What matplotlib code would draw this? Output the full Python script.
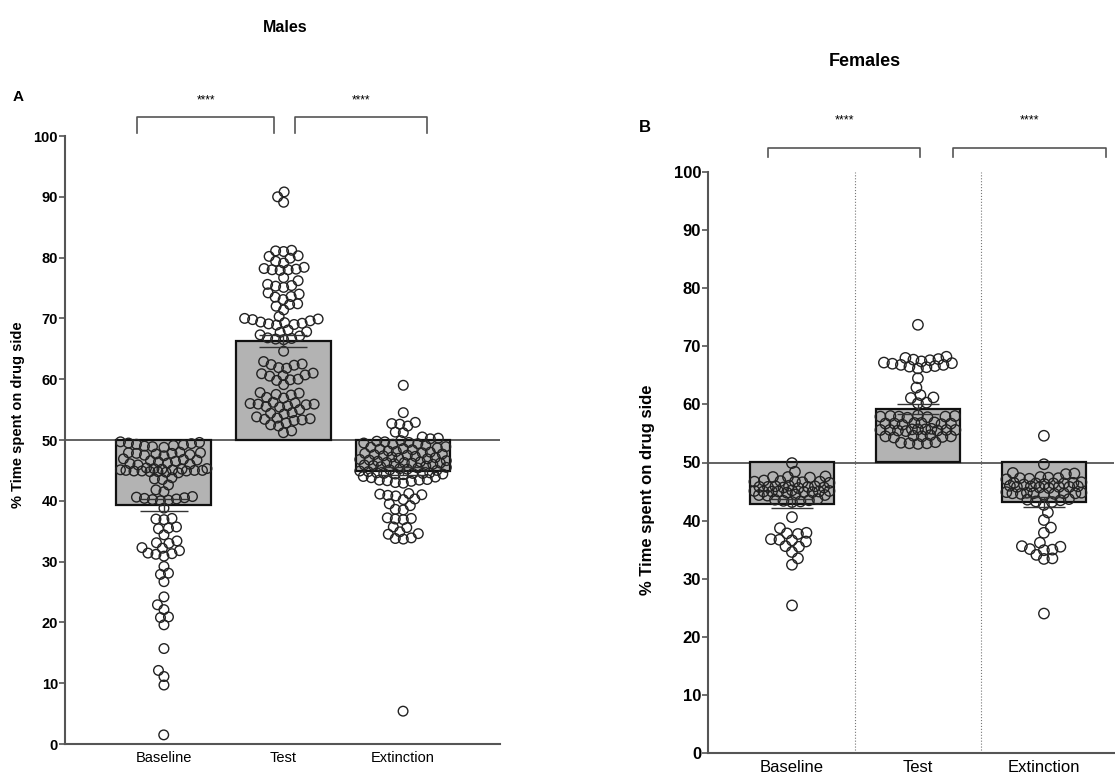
import numpy as np
import matplotlib
matplotlib.use('Agg')
import matplotlib.pyplot as plt

plt.rcParams['font.family'] = ['Liberation Sans', 'DejaVu Sans']

groups = ['Baseline', 'Test', 'Extinction']

# males, % time on drug side
m_baseline = [49.6, 49.4, 49.5, 49.3, 49.7, 49.2, 49.0, 48.9, 49.1, 48.8,
              47.9, 47.7, 47.8, 47.5, 48.0, 47.6, 47.8, 47.4, 47.9,
              46.8, 46.6, 46.9, 46.5, 46.7, 46.4, 46.0, 46.1, 45.9, 46.2,
              45.3, 45.1, 44.9, 45.0, 44.8, 45.2, 44.7, 45.0, 44.9, 45.1,
              44.8, 45.3, 44.6, 45.0, 45.2, 44.9, 45.4,
              43.8, 43.6, 43.5, 42.6, 41.8, 41.5,
              40.6, 40.4, 40.2, 40.5, 40.3, 40.1, 40.7, 40.0, 38.8,
              37.0, 37.1, 36.9, 35.4, 35.5, 35.7, 34.4, 33.4, 33.0, 33.1,
              31.8, 31.3, 31.4, 30.9, 31.2, 32.2, 32.3, 29.2, 28.1, 27.9,
              26.7, 24.2, 22.9, 22.1, 20.8, 20.9, 19.6, 15.7, 12.1, 11.1,
              9.7, 1.5]
m_test = [90.8, 90.0, 89.1,
          81.2, 81.0, 81.1, 80.2, 80.3, 79.9, 79.4, 79.1,
          78.1, 78.0, 78.4, 78.2, 77.9, 78.0, 76.7, 76.2,
          75.3, 75.6, 75.1, 75.4, 74.0, 74.2, 73.5, 73.1, 73.6,
          72.3, 72.0, 72.4, 71.4,
          70.3, 70.0, 69.6, 69.3, 69.1, 69.9, 69.8, 69.4, 69.0, 69.2,
          67.7, 68.9, 67.8, 67.1, 67.3, 66.6, 66.8, 66.7, 66.5, 68.1,
          64.6, 62.4, 62.5, 62.9, 61.8, 62.3, 61.9,
          60.9, 60.6, 61.0, 60.5, 59.9, 60.0, 60.7, 59.8, 59.1,
          57.5, 57.4, 57.0, 55.5, 56.2, 55.9, 56.1, 56.9, 55.8, 56.0,
          55.9, 55.6, 55.4, 57.8, 55.0, 57.7,
          54.4, 53.6, 53.8, 54.3, 54.5, 53.5, 52.8, 52.3, 52.5, 53.3,
          53.2, 51.5, 51.2, 53.4]
m_extinction = [59.0, 54.5, 52.7, 52.9, 52.3, 52.6, 51.2, 51.3, 50.3, 50.2,
                50.5, 49.9, 49.7, 49.8, 49.5, 49.6, 49.3, 49.1, 49.4, 48.9,
                48.7, 48.8, 48.5, 48.6, 48.2, 48.4, 48.0, 48.1, 47.8, 47.9,
                47.6, 47.7, 47.5, 47.3, 47.4, 47.1, 47.2, 46.9, 47.0, 46.8,
                46.6, 46.7, 46.5, 46.3, 46.4, 46.2, 46.3, 46.1, 46.2, 46.0,
                45.8, 45.9, 45.7, 45.5, 45.6, 45.3, 45.4, 45.1, 45.2, 45.0,
                44.9, 44.8, 44.6, 44.5, 44.4, 44.5, 44.6, 44.3, 44.5, 44.4,
                43.9, 44.0, 43.8, 43.4, 43.3, 43.5, 43.2, 43.4, 43.0, 42.9,
                41.0, 41.1, 40.9, 41.2, 40.8, 40.2, 40.3, 39.5, 39.2,
                38.5, 38.6, 37.1, 37.2, 36.9, 37.0, 35.7, 35.6,
                34.9, 34.5, 34.6, 33.8, 33.9, 33.7, 5.4]
m_means = [39.3, 66.3, 44.9]
m_sem = [1.0, 1.05, 0.6]

# females
f_baseline = [49.9, 48.4, 47.5, 47.6, 47.4, 47.5, 46.7, 46.8, 46.6, 46.7,
              46.9, 46.5, 46.7, 45.8, 45.9, 45.7, 45.8, 46.0, 45.6, 45.8,
              45.9, 45.7, 45.0, 45.1, 44.9, 45.0, 45.2, 44.8, 45.0, 45.1,
              44.9, 45.0, 44.4, 44.5, 44.3, 44.4, 43.6, 43.7, 43.5, 43.3,
              43.2, 43.4, 40.6, 38.7, 37.8, 37.9, 37.7, 36.7, 36.6, 36.8,
              36.4, 35.5, 35.6, 34.6, 33.5, 32.4, 25.4]
f_test = [73.7, 67.8, 66.8, 67.4, 66.8, 66.6, 68.0, 67.0, 66.5, 66.2,
          67.6, 68.2, 67.1, 67.2, 67.7, 66.4,
          64.5, 62.9, 61.6, 61.2, 61.1, 60.2, 60.3,
          57.9, 58.0, 57.8, 57.9, 58.1, 57.7, 57.9, 58.0,
          56.7, 56.8, 56.6, 56.7, 56.9, 56.5, 56.7, 56.8,
          55.6, 55.7, 55.5, 55.6, 55.8, 55.4, 55.6, 55.7, 55.5, 55.6, 55.7,
          54.5, 54.6, 54.4, 54.5, 54.7, 54.3, 54.5,
          53.3, 53.4, 53.2, 53.3, 53.5]
f_extinction = [54.6, 49.7, 48.1, 48.2, 48.0,
                47.3, 47.4, 47.2, 47.3, 47.5, 47.1,
                46.4, 46.5, 46.3, 46.4, 46.6, 46.2, 46.4, 46.5,
                45.8, 45.9, 45.7, 45.8, 46.0, 45.6, 45.8, 45.9,
                44.7, 44.8, 44.6, 44.7, 44.9, 44.5, 44.7, 44.8, 44.6, 44.7,
                43.6, 43.7, 43.5, 43.3, 43.2, 42.7,
                41.4, 40.1, 38.8, 37.9, 36.2, 35.5, 35.6, 35.0, 35.1, 34.9,
                34.1, 33.4, 33.5, 24.0]
f_means = [42.9, 59.2, 43.2]
f_sem = [0.75, 0.9, 0.8]

W, H = 1115, 777
fig = plt.figure(figsize=(W / 100, H / 100), dpi=100)


def swarm(vals, ppx, ppy, diam, half):
    vals = np.asarray(vals, dtype=float)
    offs = np.zeros(len(vals))
    cands = np.arange(-half, half + 0.25, 0.5)
    cands = cands[np.argsort(np.abs(cands), kind='stable')]
    px, py = [], []
    for i in np.argsort(vals):
        y = vals[i] * ppy
        if px:
            ax_ = np.array(px)
            ay_ = np.array(py)
            d = np.sqrt((cands[:, None] - ax_[None, :]) ** 2 + (y - ay_[None, :]) ** 2).min(axis=1)
            ok = np.nonzero(d >= diam)[0]
            c = cands[ok[0]] if len(ok) else cands[np.argmax(d)]
        else:
            c = 0.0
        offs[i] = c
        px.append(c)
        py.append(y)
    return offs / ppx


def panel(rect, xlim, data, means, sem, width, capsize, fs, dotted, msize, mind):
    ax = fig.add_axes(rect)
    ax.set_xlim(*xlim)
    ax.set_ylim(0, 100)
    ppx = W * rect[2] / (xlim[1] - xlim[0])
    ppy = H * rect[3] / 100
    x = np.arange(len(groups))
    ax.axhline(50, color='#555555', lw=1.3, zorder=1)
    if dotted:
        for xv in [0.5, 1.5]:
            ax.axvline(xv, color='#777777', lw=0.8, ls=':', zorder=1)
    ax.bar(x, np.array(means) - 50, bottom=50, width=width, color='#b3b3b3',
           edgecolor='#111111', linewidth=1.6, zorder=2)
    for i, vals in enumerate(data):
        offs = swarm(vals, ppx, ppy, mind, width * ppx / 2 - 4)
        ax.scatter(x[i] + offs, vals, s=msize, facecolors='none', edgecolors='#222222',
                   linewidths=1.0, zorder=4)
    ax.errorbar(x, means, yerr=sem, fmt='none', ecolor='#333333', elinewidth=1.0,
                capsize=capsize, capthick=1.0, zorder=5)
    for s in ['top', 'right']:
        ax.spines[s].set_visible(False)
    for s in ['left', 'bottom']:
        ax.spines[s].set_color('#555555')
        ax.spines[s].set_linewidth(1.5)
    ax.set_yticks(range(0, 101, 10))
    ax.set_yticklabels([str(v) for v in range(0, 101, 10)], fontsize=fs, fontweight='bold')
    ax.tick_params(axis='y', direction='out', length=4, width=1.2, color='#555555', pad=1)
    ax.set_xticks(x)
    ax.set_xticklabels(groups, fontsize=fs)
    ax.tick_params(axis='x', length=0, pad=5)
    return ax


def bracket(ax, x0, x1, ytop, ybot, ystar, fs):
    ax.plot([x0, x0, x1, x1], [ybot, ytop, ytop, ybot], color='#555555', lw=1.2,
            clip_on=False)
    ax.text((x0 + x1) / 2, ystar, '****', ha='center', va='center', fontsize=fs,
            clip_on=False)


ax1 = panel([65 / W, 1 - 744 / H, 435 / W, 608 / H], (-0.825, 2.81),
            [m_baseline, m_test, m_extinction], m_means, m_sem, 0.79, 17, 10.5, False,
            48, 8.0)
bracket(ax1, -0.22, 0.925, 103.1, 100.5, 105.8, 8.5)
bracket(ax1, 1.1, 2.2, 103.1, 100.5, 105.8, 8.5)

ax2 = panel([708 / W, 1 - 753 / H, 406 / W, 581 / H], (-0.667, 2.556),
            [f_baseline, f_test, f_extinction], f_means, f_sem, 0.66, 15, 12, True,
            56, 8.5)
bracket(ax2, -0.19, 1.016, 104.1, 102.6, 108.8, 9)
bracket(ax2, 1.28, 2.49, 104.1, 102.6, 108.8, 9)

fig.text(285 / W, 1 - 27 / H, 'Males', ha='center', va='center', fontsize=11.5, fontweight='bold')
fig.text(865 / W, 1 - 62 / H, 'Females', ha='center', va='center', fontsize=13, fontweight='bold')
fig.text(18 / W, 1 - 97 / H, 'A', ha='center', va='center', fontsize=11, fontweight='bold')
fig.text(645 / W, 1 - 127 / H, 'B', ha='center', va='center', fontsize=12, fontweight='bold')
fig.text(18 / W, 1 - 415 / H, '% Time spent on drug side', rotation=90, ha='center',
         va='center', fontsize=10.5, fontweight='bold')
fig.text(648 / W, 1 - 490 / H, '% Time spent on drug side', rotation=90, ha='center',
         va='center', fontsize=12, fontweight='bold')

fig.savefig('out.png', dpi=100)
